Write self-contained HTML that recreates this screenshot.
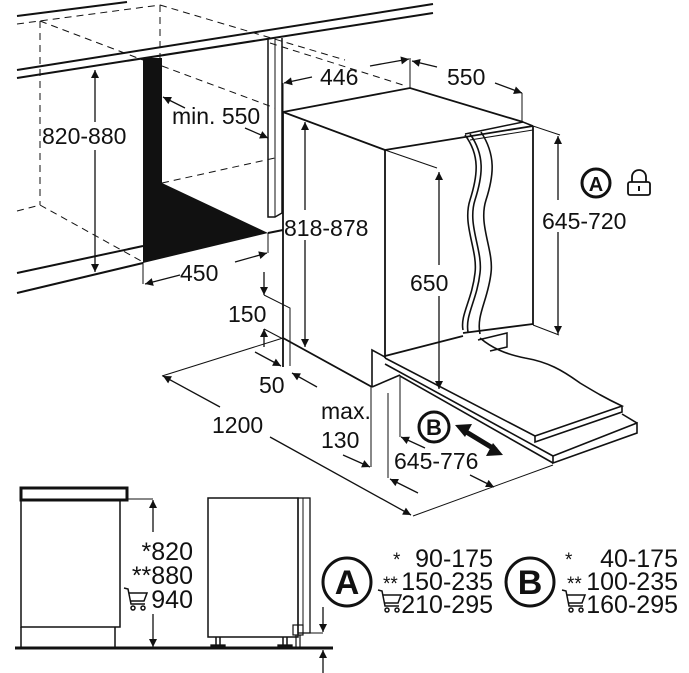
<!DOCTYPE html>
<html><head><meta charset="utf-8"><style>
html,body{margin:0;padding:0;background:#fff;}
svg{display:block;}
text{font-family:"Liberation Sans",Arial,sans-serif;fill:#111;}
</style></head><body>
<svg width="689" height="673" viewBox="0 0 689 673" xmlns="http://www.w3.org/2000/svg">
<defs>
<marker id="a" viewBox="0 0 10 10" refX="10" refY="5" markerWidth="11" markerHeight="8" markerUnits="userSpaceOnUse" orient="auto-start-reverse"><path d="M0,0 L10,5 L0,10 z" fill="#111"/></marker>
</defs>
<g stroke="#111" fill="none" stroke-width="1.3">
<line x1="17" y1="16" x2="127" y2="2" stroke-width="2"/>
<g stroke-dasharray="7,5" stroke-width="1">
<line x1="17" y1="24" x2="160" y2="5"/>
<line x1="160" y1="5" x2="160" y2="58"/>
<line x1="40" y1="21" x2="40" y2="205"/>
<line x1="40" y1="21" x2="143" y2="60"/>
<line x1="162" y1="66" x2="275" y2="108"/>
<line x1="160" y1="5" x2="345" y2="60"/>
<line x1="17" y1="211" x2="40" y2="205"/>
<line x1="40" y1="205" x2="143" y2="262"/>
<line x1="162" y1="183" x2="275" y2="158"/>
<line x1="270" y1="43" x2="403" y2="85"/>
</g>
<line x1="17" y1="70" x2="433" y2="4" stroke-width="2"/>
<line x1="17" y1="78" x2="433" y2="13" stroke-width="2"/>
<line x1="17" y1="273" x2="143" y2="246" stroke-width="2"/>
<line x1="17" y1="293" x2="143" y2="263" stroke-width="2"/>
<line x1="268" y1="233" x2="283" y2="230" stroke-width="2"/>
<polyline points="268,38 268,217 275,217 282,213 282,38" stroke-width="1.5"/>
<line x1="275" y1="37" x2="275" y2="217" stroke-width="1"/>
<line x1="95" y1="70" x2="95" y2="122" marker-start="url(#a)"/>
<line x1="95" y1="150" x2="95" y2="272" marker-end="url(#a)"/>
<line x1="185" y1="108" x2="163" y2="97" marker-end="url(#a)"/>
<line x1="245" y1="128" x2="268" y2="138" marker-end="url(#a)"/>
<line x1="143" y1="262" x2="143" y2="284" stroke-width="1"/>
<line x1="268" y1="233" x2="268" y2="253" stroke-width="1"/>
<line x1="180" y1="275" x2="145" y2="284" marker-end="url(#a)"/>
<line x1="235" y1="262" x2="267" y2="253" marker-end="url(#a)"/>
<line x1="264" y1="272" x2="264" y2="295" marker-end="url(#a)"/>
<polyline points="264,295 290,308 290,366" stroke-width="1"/>
<line x1="264" y1="347" x2="264" y2="329" marker-end="url(#a)"/>
<line x1="264" y1="329" x2="283" y2="339" stroke-width="1"/>
<line x1="255" y1="352" x2="281" y2="366" marker-end="url(#a)"/>
<line x1="317" y1="387" x2="292" y2="373" marker-end="url(#a)"/>
<line x1="162" y1="376" x2="283" y2="338" stroke-width="1"/>
<line x1="220" y1="407" x2="163" y2="376" marker-end="url(#a)"/>
<line x1="270" y1="437" x2="411" y2="515" marker-end="url(#a)"/>
<line x1="413" y1="516" x2="553" y2="465" stroke-width="1"/>
<polyline points="283,112 410,88 523,122" stroke-width="1.8"/>
<line x1="283" y1="112" x2="385" y2="150" stroke-width="1.8"/>
<line x1="283" y1="112" x2="283" y2="367" stroke-width="1.8"/>
<line x1="385" y1="150" x2="385" y2="358" stroke-width="1.8"/>
<line x1="283" y1="338" x2="372" y2="387" stroke-width="1.8"/>
<line x1="385" y1="150" x2="533" y2="126" stroke-width="1.8"/>
<polyline points="465,134 523,122 533,126" stroke-width="1.5"/>
<line x1="470" y1="140" x2="533" y2="130" stroke-width="1"/>
<line x1="533" y1="126" x2="533" y2="325" stroke-width="1.8"/>
<line x1="385" y1="356" x2="463" y2="336" stroke-width="1.8"/>
<line x1="463" y1="333" x2="533" y2="324" stroke-width="1.8"/>
<polyline points="478,340 507,333 507,347 490,351" stroke-width="1.5"/>
<path d="M465,135 C480,155 478,175 470,200 C462,225 478,250 475,273 C472,300 460,315 463,330" stroke-width="1.6"/>
<path d="M470,134 C485,155 483,175 475,200 C467,225 483,250 480,273 C477,300 465,315 468,332" stroke-width="1.6"/>
<path d="M481,132 C496,155 494,175 486,200 C478,225 494,250 491,273 C488,300 476,315 480,334" stroke-width="1.6"/>
<path d="M385,358 L535,436 L622,406 C605,398 595,392 580,383 C562,370 548,362 525,358 C505,354 492,348 480,338" stroke-width="1.6"/>
<polyline points="535,436 535,442 622,412 622,406" stroke-width="1.6"/>
<line x1="385" y1="364" x2="553" y2="456" stroke-width="1.6"/>
<polyline points="553,456 637,423 637,433 553,463 553,456" stroke-width="1.6"/>
<line x1="622" y1="414" x2="637" y2="423" stroke-width="1.6"/>
<line x1="400" y1="376" x2="553" y2="463" stroke-width="1.6"/>
<polyline points="372,387 372,350 385,357" stroke-width="1.6"/>
<line x1="372" y1="387" x2="400" y2="375" stroke-width="1.6"/>
<line x1="400" y1="375" x2="400" y2="437" stroke-width="1"/>
<line x1="283" y1="83" x2="283" y2="112" stroke-width="1"/>
<line x1="312" y1="77" x2="284" y2="83" marker-end="url(#a)"/>
<line x1="370" y1="66" x2="409" y2="59" marker-end="url(#a)"/>
<line x1="410" y1="58" x2="410" y2="88" stroke-width="1"/>
<line x1="437" y1="67" x2="412" y2="61" marker-end="url(#a)"/>
<line x1="495" y1="83" x2="522" y2="93" marker-end="url(#a)"/>
<line x1="522" y1="93" x2="522" y2="122" stroke-width="1"/>
<line x1="305" y1="210" x2="305" y2="122" marker-end="url(#a)"/>
<line x1="305" y1="240" x2="305" y2="347" marker-end="url(#a)"/>
<line x1="385" y1="150" x2="437" y2="168" stroke-width="1"/>
<line x1="439" y1="265" x2="439" y2="172" marker-end="url(#a)"/>
<line x1="439" y1="296" x2="439" y2="389" marker-end="url(#a)"/>
<line x1="533" y1="126" x2="560" y2="135" stroke-width="1"/>
<line x1="533" y1="325" x2="559" y2="335" stroke-width="1"/>
<line x1="558" y1="200" x2="558" y2="136" marker-end="url(#a)"/>
<line x1="558" y1="232" x2="558" y2="334" marker-end="url(#a)"/>
<line x1="371" y1="387" x2="371" y2="467" stroke-width="1"/>
<line x1="343" y1="455" x2="370" y2="467" marker-end="url(#a)"/>
<line x1="388" y1="393" x2="388" y2="478" stroke-width="1"/>
<line x1="425" y1="448" x2="401" y2="437" marker-end="url(#a)"/>
<line x1="418" y1="493" x2="390" y2="479" marker-end="url(#a)"/>
<line x1="470" y1="475" x2="494" y2="487" marker-end="url(#a)"/>
<line x1="463" y1="430" x2="496" y2="450" stroke-width="5"/>
<path d="M455,425 L472,424 L465,437 z M503,455 L486,456 L493,443 z" fill="#111" stroke="none"/>
<circle cx="434" cy="427" r="15" stroke-width="3"/>
<circle cx="596" cy="183" r="14" stroke-width="3"/>
<rect x="628" y="182" width="22" height="13" rx="2" stroke-width="1.8"/>
<path d="M632,182 V177 a7,7 0 0 1 14,0 V182" stroke-width="1.8"/>
<line x1="639" y1="186" x2="639" y2="191" stroke-width="2"/>
<rect x="21" y="488" width="106" height="12" stroke-width="3"/>
<rect x="21" y="500" width="99" height="127" stroke-width="1.5"/>
<line x1="21" y1="627" x2="21" y2="648" stroke-width="1.5"/>
<line x1="115" y1="627" x2="115" y2="648" stroke-width="1.5"/>
<line x1="15" y1="648" x2="333" y2="648" stroke-width="3"/>
<line x1="127" y1="499" x2="153" y2="499" stroke-width="1"/>
<line x1="153" y1="532" x2="153" y2="500" marker-end="url(#a)"/>
<line x1="153" y1="614" x2="153" y2="647" marker-end="url(#a)"/>
<rect x="208" y="498" width="90" height="139" stroke-width="1.5"/>
<rect x="298" y="498" width="12" height="135" stroke-width="1.3"/>
<line x1="303" y1="498" x2="303" y2="625" stroke-width="1"/>
<rect x="293" y="625" width="10" height="10" stroke-width="1.2"/>
<line x1="296" y1="635" x2="296" y2="648" stroke-width="1.2"/>
<line x1="300" y1="635" x2="300" y2="648" stroke-width="1.2"/>
<line x1="216" y1="637" x2="216" y2="646" stroke-width="1.5"/>
<line x1="220" y1="637" x2="220" y2="646" stroke-width="1.5"/>
<line x1="283" y1="637" x2="283" y2="646" stroke-width="1.5"/>
<line x1="287" y1="637" x2="287" y2="646" stroke-width="1.5"/>
<rect x="211" y="645" width="14" height="3" fill="#111"/>
<rect x="278" y="645" width="14" height="3" fill="#111"/>
<line x1="310" y1="633" x2="323" y2="633" stroke-width="1"/>
<line x1="323" y1="607" x2="323" y2="632" marker-end="url(#a)"/>
<line x1="323" y1="673" x2="323" y2="650" marker-end="url(#a)"/>
<circle cx="347" cy="582" r="24" stroke-width="3"/>
<circle cx="530" cy="582" r="24" stroke-width="3"/>
<g stroke-width="1.5">
<path d="M124,588 L128,589 L131,604 L145,604 M129,593 L147,593 L144,601 L131,601"/>
<circle cx="133" cy="608" r="2"/><circle cx="143" cy="608" r="2"/>
<path d="M378,590 L382,591 L385,606 L399,606 M383,595 L401,595 L398,603 L385,603"/>
<circle cx="387" cy="610" r="2"/><circle cx="397" cy="610" r="2"/>
<path d="M562,590 L566,591 L569,606 L583,606 M567,595 L585,595 L582,603 L569,603"/>
<circle cx="571" cy="610" r="2"/><circle cx="581" cy="610" r="2"/>
</g>
</g>
<polygon points="143,58 162,58 162,183 268,233 143,263" fill="#111"/>
<g font-size="23">
<text x="42" y="144">820-880</text>
<text x="172" y="124">min. 550</text>
<text x="180" y="281">450</text>
<text x="228" y="322">150</text>
<text x="259" y="393">50</text>
<text x="212" y="433">1200</text>
<text x="284" y="236">818-878</text>
<text x="320" y="85">446</text>
<text x="447" y="85">550</text>
<text x="410" y="291">650</text>
<text x="542" y="229">645-720</text>
<text x="321" y="419">max.</text>
<text x="321" y="448">130</text>
<text x="394" y="469">645-776</text>
</g>
<g font-size="22" font-weight="bold" text-anchor="middle">
<text x="434" y="435">B</text>
<text x="596" y="191" font-size="20">A</text>
</g>
<g font-size="34" font-weight="bold" text-anchor="middle">
<text x="347" y="594">A</text>
<text x="530" y="594">B</text>
</g>
<g font-size="25" text-anchor="end">
<text x="193" y="560">*820</text>
<text x="193" y="584">**880</text>
<text x="193" y="608">940</text>
<text x="493" y="567">90-175</text>
<text x="493" y="590">150-235</text>
<text x="493" y="613">210-295</text>
<text x="678" y="567">40-175</text>
<text x="678" y="590">100-235</text>
<text x="678" y="613">160-295</text>
</g>
<g font-size="19">
<text x="393" y="566">*</text>
<text x="383" y="590">**</text>
<text x="565" y="566">*</text>
<text x="567" y="590">**</text>
</g>
</svg>
</body></html>
